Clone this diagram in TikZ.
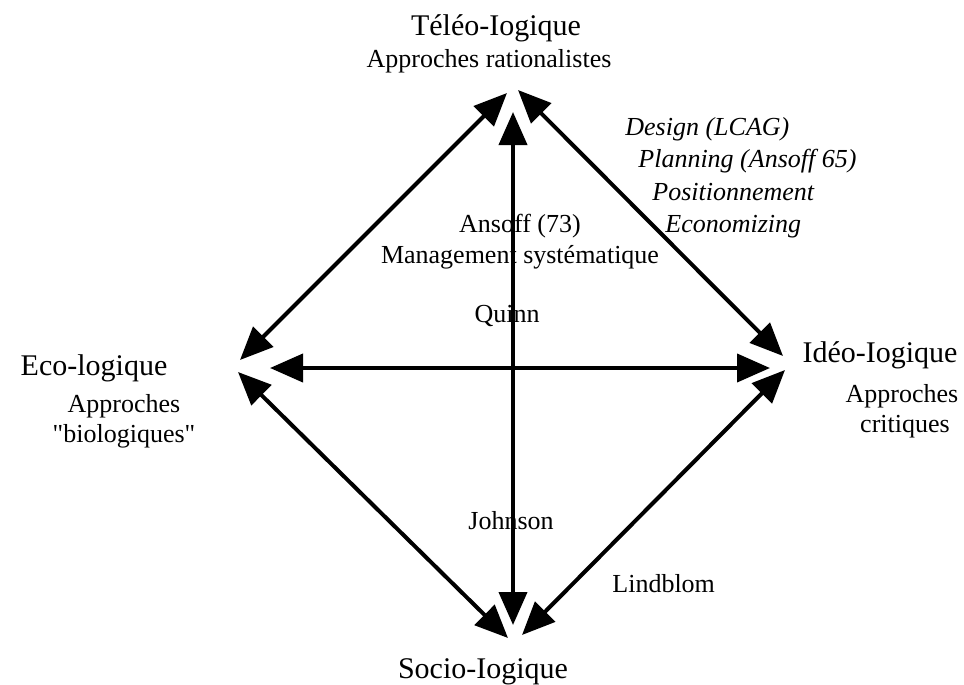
\documentclass[tikz,border=0pt]{standalone}
\usepackage{fontspec}
\setmainfont{Liberation Serif}
\newfontfamily\plainserif{Liberation Serif}
\usetikzlibrary{arrows.meta}
\begin{document}
\begin{tikzpicture}[x=0.5pt,y=-0.5pt,
  big/.style={inner sep=0pt, anchor=base, font=\fontsize{15}{18}\selectfont},
  small/.style={inner sep=0pt, anchor=base, font=\fontsize{13}{16}\selectfont},
  ital/.style={inner sep=0pt, anchor=base west, font=\fontsize{13}{16}\selectfont\itshape},
  tipa/.tip={Triangle[length=16.5pt,width=14pt]},
  darr/.style={line width=2pt, tipa-tipa}]
\useasboundingbox (0,0) rectangle (964,685);
% labels
\node[big] (tele) at (496,35) {Téléo-Iogique};
\node[small] (tele2) at (489,68) {Approches rationalistes};
\node[ital] (d1) at (625,135) {Design (LCAG)};
\node[ital] (d2) at (638,167) {Planning (Ansoff 65)};
\node[ital] (d3) at (652,200) {Positionnement};
\node[ital] (d4) at (665,232) {Economizing};
\node[small] (ans) at (520,232) {Ansoff (73)};
\node[small] (mgt) at (520,263) {Management systématique};
\node[small] (quinn) at (507,322) {Quinn};
\node[big] (eco) at (94,375) {Eco-logique};
\node[small] (eco2) at (124,412) {Approches};
\node[small] (eco3) at (124,442) {\plainserif "biologiques"};
\node[big] (ideo) at (880,362) {Idéo-Iogique};
\node[small] (ideo2) at (902,402) {Approches};
\node[small] (ideo3) at (905,432) {critiques};
\node[small] (john) at (511,529) {Johnson};
\node[small, anchor=base west] (lind) at (612,592) {Lindblom};
\node[big] (socio) at (483,678) {Socio-Iogique};
% arrow end points
\coordinate (tA) at (507,93);
\coordinate (tB) at (518,90);
\coordinate (tC) at (513,112);
\coordinate (lA) at (240,360);
\coordinate (lB) at (270,368);
\coordinate (lC) at (238,372);
\coordinate (rA) at (783,356);
\coordinate (rB) at (770,368);
\coordinate (rC) at (785,370);
\coordinate (bA) at (508,638);
\coordinate (bB) at (513,625);
\coordinate (bC) at (522,635);
% arrows
\draw[darr] (tA) -- (lA);
\draw[darr] (tB) -- (rA);
\draw[darr] (tC) -- (bB);
\draw[darr] (lB) -- (rB);
\draw[darr] (lC) -- (bA);
\draw[darr] (rC) -- (bC);
\end{tikzpicture}
\end{document}
